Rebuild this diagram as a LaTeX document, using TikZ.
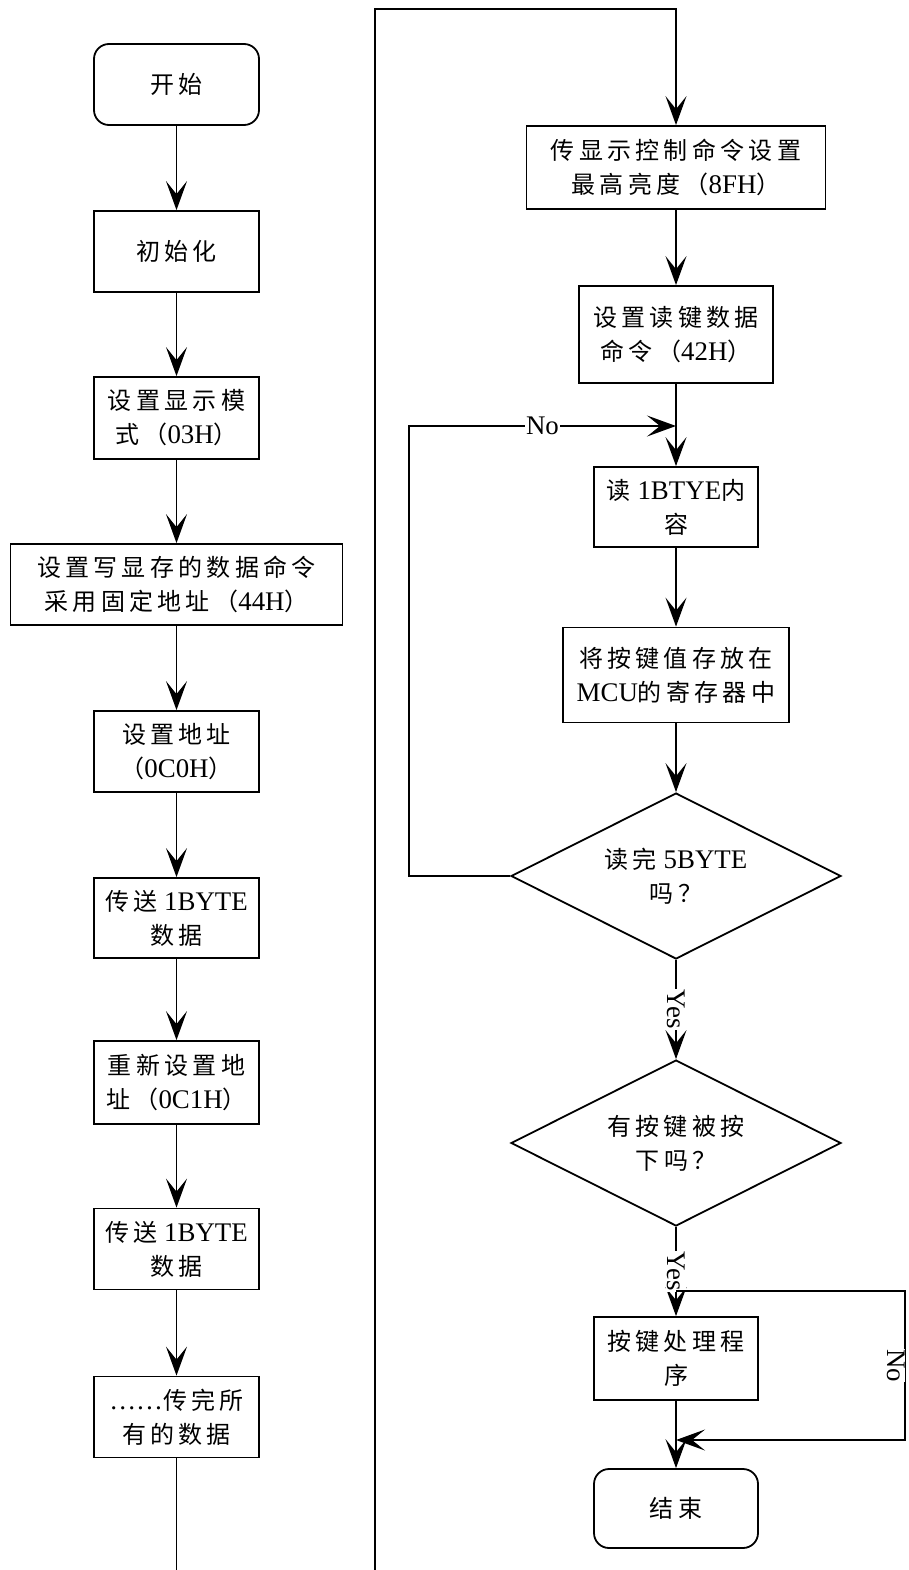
\documentclass[tikz,border=0pt]{standalone}
\usepackage{fontspec}
\setmainfont{Liberation Serif}[Scale=1.12]
\newfontfamily\cjk{Noto Sans CJK SC}[LetterSpace=18]
\newcommand{\zh}[1]{{\cjk #1}}
\usetikzlibrary{arrows.meta,shapes.geometric}

\begin{document}
\begin{tikzpicture}[x=1pt, y=-1pt,
  every node/.style={font=\fontsize{24}{34}\selectfont},
  box/.style={draw, line width=1.8pt, align=center, inner sep=0pt, minimum width=165pt, minimum height=81pt},
  term/.style={box, rounded corners=15pt},
  dec/.style={draw, diamond, aspect=2, line width=1.8pt, align=center, inner sep=0pt, minimum width=330pt, minimum height=166pt},
  arrow/.style={-{Stealth[length=29pt, width=21pt, inset=13pt]}, line width=1.8pt},
  lbl/.style={fill=white, inner sep=1pt}
]
\useasboundingbox (0,0) rectangle (909,1570);

% left column
\node[term] (start) at (176.5,84.5) {\zh{开始}};
\node[box] (init) at (176.5,251.5) {\zh{初始化}};
\node[box, minimum height=82pt] (mode) at (176.5,418) {\zh{设置显示模}\\\zh{式（}03H\zh{）}};
\node[box, minimum width=332pt] (wcmd) at (176.5,584.5) {\zh{设置写显存的数据命令}\\\zh{采用固定地址（}44H\zh{）}};
\node[box] (addr) at (176.5,751.5) {\zh{设置地址}\\\zh{（}0C0H\zh{）}};
\node[box, minimum height=80pt] (send1) at (176.5,918) {\zh{传送} 1BYTE\\\zh{数据}};
\node[box, minimum height=83pt] (readdr) at (176.5,1082.5) {\zh{重新设置地}\\\zh{址（}0C1H\zh{）}};
\node[box] (send2) at (176.5,1249) {\zh{传送} 1BYTE\\\zh{数据}};
\node[box] (rest) at (176.5,1417) {……\zh{传完所}\\\zh{有的数据}};
\coordinate (lend) at (176.5,1570);

% right column
\node[box, minimum width=299pt, minimum height=83pt] (disp) at (676,167.5) {\zh{传显示控制命令设置}\\\zh{最高亮度（}8FH\zh{）}};
\node[box, minimum width=194pt, minimum height=97pt] (keycmd) at (676,334.5) {\zh{设置读键数据}\\\zh{命令（}42H\zh{）}};
\node[box, minimum width=164pt, minimum height=80pt] (read) at (676,507) {\zh{读} 1BTYE\zh{内}\\\zh{容}};
\node[box, minimum width=226pt, minimum height=95pt] (store) at (676,675) {\zh{将按键值存放在}\\MCU\zh{的寄存器中}};
\node[dec] (full) at (676,876) {\zh{读完} 5BYTE\\\zh{吗？}};
\node[dec] (press) at (676,1143) {\zh{有按键被按}\\\zh{下吗？}};
\node[box, minimum width=164pt, minimum height=83pt] (proc) at (676,1358.5) {\zh{按键处理程}\\\zh{序}};
\node[term, minimum width=164pt, minimum height=79pt] (stop) at (676,1508.5) {\zh{结束}};

% bends
\coordinate (cbot) at (375,1570);
\coordinate (ctop) at (375,9);
\coordinate (dtop) at (676,9);
\coordinate (lp) at (409,876);
\coordinate (lq) at (409,426);
\coordinate (mrg) at (676,426);
\coordinate (ysp) at (676,1291);
\coordinate (rp) at (905,1291);
\coordinate (rq) at (905,1440);
\coordinate (mrg2) at (676,1440);

\draw[arrow] (start) -- (init);
\draw[arrow] (init) -- (mode);
\draw[arrow] (mode) -- (wcmd);
\draw[arrow] (wcmd) -- (addr);
\draw[arrow] (addr) -- (send1);
\draw[arrow] (send1) -- (readdr);
\draw[arrow] (readdr) -- (send2);
\draw[arrow] (send2) -- (rest);
\draw[line width=1.8pt] (rest) -- (lend);

\draw[arrow] (cbot) -- (ctop) -- (dtop) -- (disp);
\draw[arrow] (disp) -- (keycmd);
\draw[arrow] (keycmd) -- (read);
\draw[arrow] (full.west) -- (lp) -- (lq) -- node[lbl] {No} (mrg);
\draw[arrow] (read) -- (store);
\draw[arrow] (store) -- (full);
\draw[arrow] (full) -- node[lbl, rotate=-90] {Yes} (press);
\draw[arrow] (press) -- node[lbl, rotate=-90] {Yes} (proc);
\draw[arrow] (ysp) -- (rp) -- node[lbl, xshift=-9pt, rotate=-90, inner sep=0pt] {No} (rq) -- (mrg2);
\draw[arrow] (proc) -- (stop);
\end{tikzpicture}
\end{document}
